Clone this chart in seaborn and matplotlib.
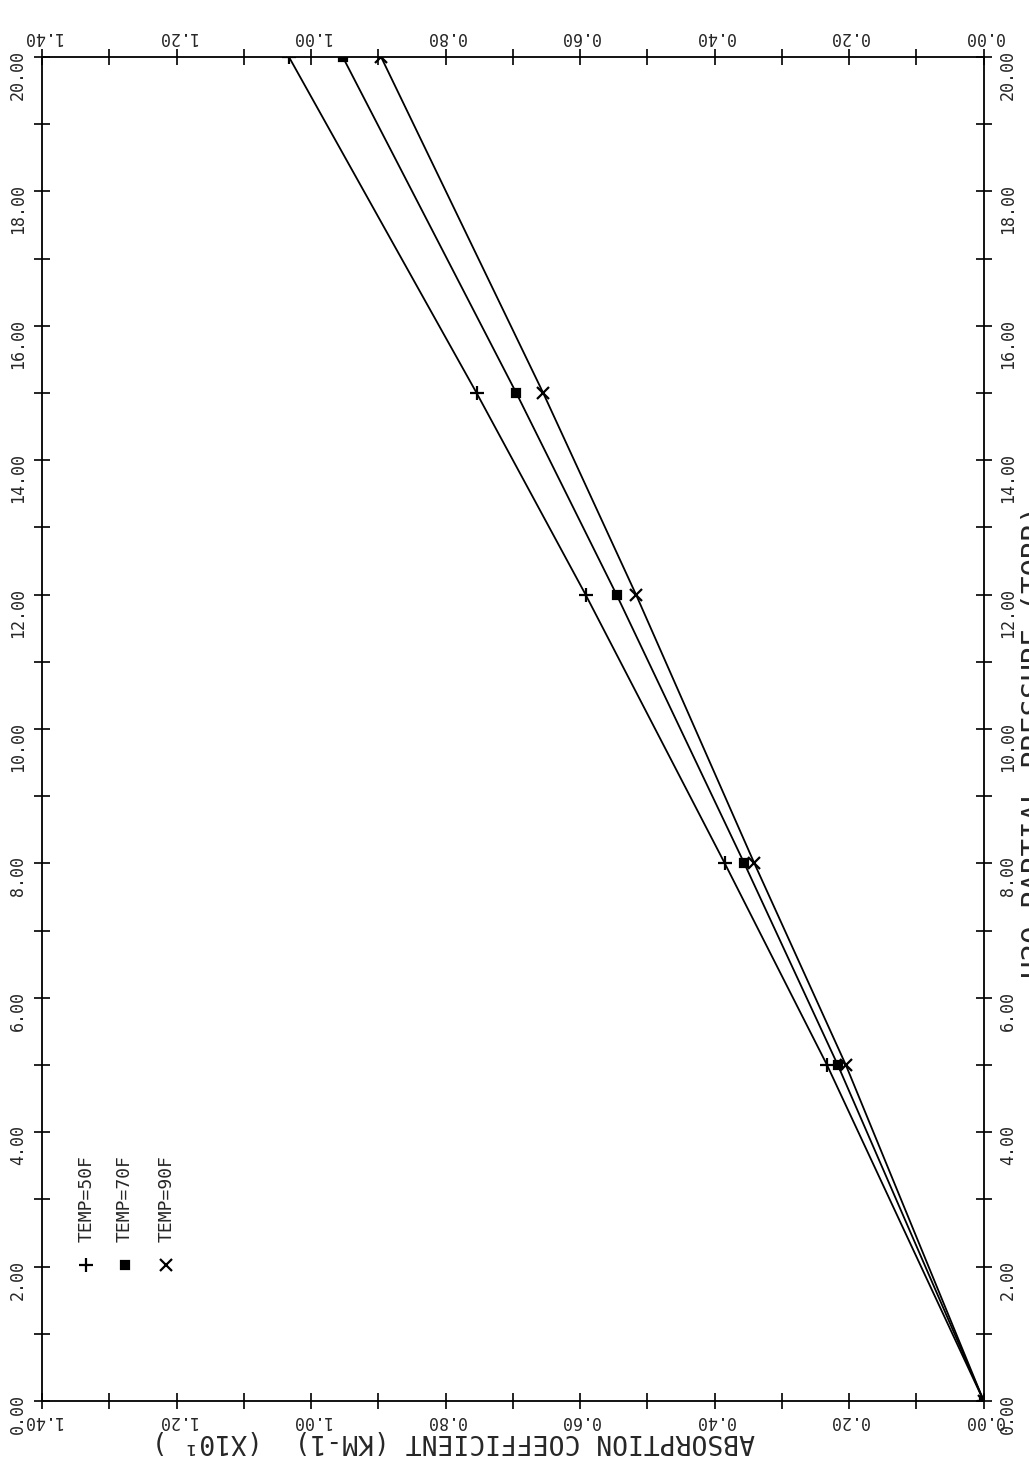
import numpy as np
import pandas as pd
import matplotlib
matplotlib.use('Agg')
import matplotlib.pyplot as plt
import seaborn as sns
from matplotlib.ticker import MultipleLocator, FormatStrFormatter

pressure = [0, 5, 8, 12, 15, 20]
coef_50f = [0.0, 0.233, 0.385, 0.592, 0.754, 1.033]
coef_70f = [0.0, 0.217, 0.356, 0.546, 0.695, 0.953]
coef_90f = [0.0, 0.205, 0.341, 0.517, 0.655, 0.896]
temps = ['TEMP=50F', 'TEMP=70F', 'TEMP=90F']
marker_map = {'TEMP=50F': '+', 'TEMP=70F': 's', 'TEMP=90F': 'x'}
marker_size = {'TEMP=50F': 10, 'TEMP=70F': 6, 'TEMP=90F': 9}

df = pd.DataFrame({
    'pressure': pressure * 3,
    'coef': coef_50f + coef_70f + coef_90f,
    'temp': np.repeat(temps, len(pressure)),
})

sns.set_style('white')
plt.rcParams['font.family'] = ['DejaVu Sans Mono', 'DejaVu Sans']

fig = plt.figure(figsize=(10.29, 14.63), dpi=100)
ax = fig.add_axes([0.041, 0.0424, 0.915, 0.9186])

for t in temps:
    sub = df[df['temp'] == t]
    sns.lineplot(data=sub, x='coef', y='pressure', color='black', sort=False,
                 estimator=None, legend=False, ax=ax, lw=1.3,
                 marker=marker_map[t], markersize=marker_size[t],
                 markeredgecolor='black', markeredgewidth=1.6)

# page is turned: absorption runs right-to-left, pressure bottom-to-top
ax.set_xlim(1.4, 0)
ax.set_ylim(0, 20)
ax.set_xlabel('')
ax.set_ylabel('')
ax.xaxis.set_major_locator(MultipleLocator(0.2))
ax.xaxis.set_minor_locator(MultipleLocator(0.1))
ax.yaxis.set_major_locator(MultipleLocator(2))
ax.yaxis.set_minor_locator(MultipleLocator(1))
ax.xaxis.set_major_formatter(FormatStrFormatter('%.2f'))
ax.yaxis.set_major_formatter(FormatStrFormatter('%.2f'))
ax.tick_params(which='both', direction='inout', length=12, width=1.2, color='black',
               top=True, right=True, bottom=True, left=True,
               labeltop=True, labelright=True, labelsize=12)
ax.tick_params(axis='x', labelrotation=180, pad=2)
ax.tick_params(axis='y', labelrotation=90, pad=5)
for sp in ax.spines.values():
    sp.set_linewidth(1.3)
    sp.set_color('black')

# hand-drawn legend, turned with the page
leg_x = [0.0467, 0.088, 0.132]
for i, t in enumerate(temps):
    ax.plot(leg_x[i], 0.101, marker=marker_map[t], color='black',
            markersize=marker_size[t], markeredgewidth=1.6, transform=ax.transAxes)
    ax.text(leg_x[i], 0.118, t, rotation=90, transform=ax.transAxes,
            ha='center', va='bottom', fontsize=13)

fig.text(453 / 1029, 1 - 1441 / 1463, 'ABSORPTION COEFFICIENT (KM-1)  (X10¹ )',
         rotation=180, ha='center', va='center', fontsize=19)
fig.text(1021 / 1029, 1 - 742 / 1463, 'H2O PARTIAL PRESSURE (TORR)',
         rotation=90, ha='left', va='center', fontsize=21)

fig.savefig('out.png', dpi=100)
